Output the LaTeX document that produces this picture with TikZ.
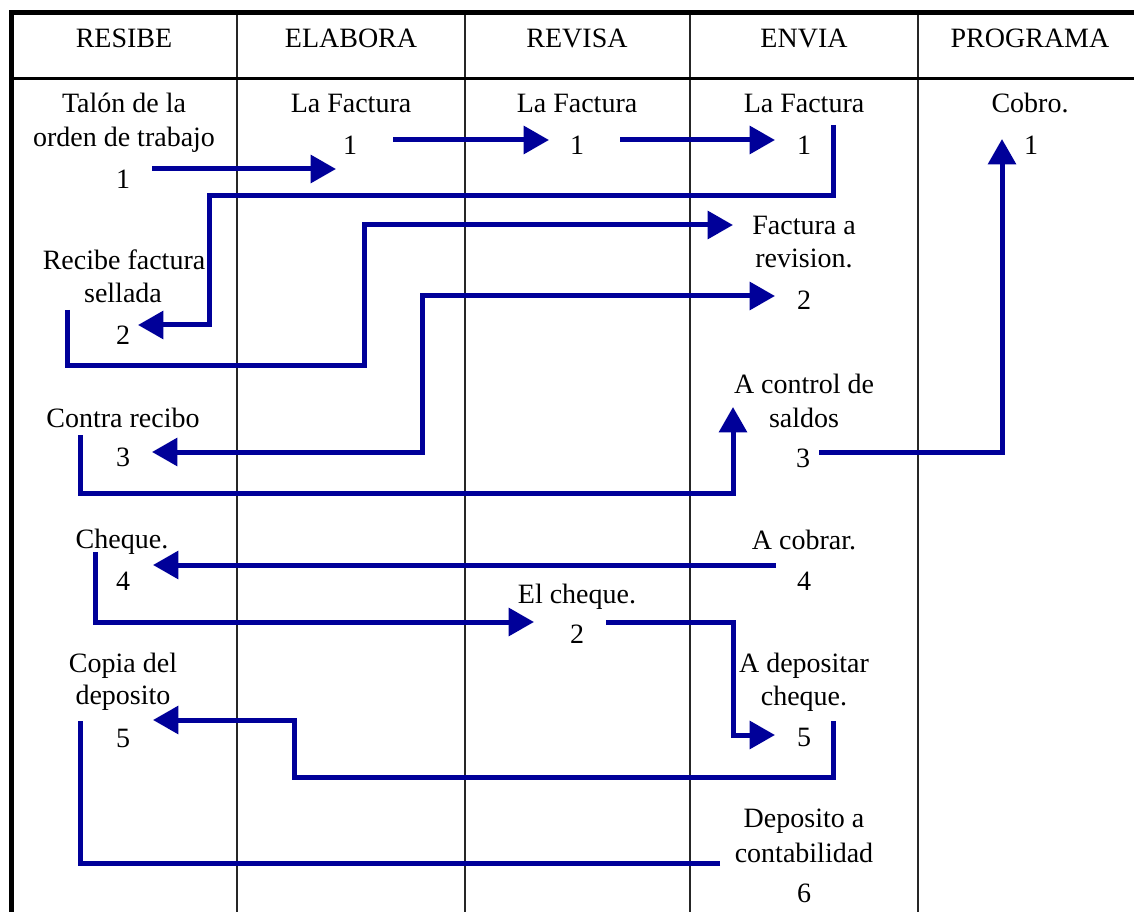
\documentclass[tikz,border=0pt]{standalone}
\usepackage{fontspec}
\setmainfont{Liberation Serif}
\usetikzlibrary{arrows.meta}
\definecolor{flow}{RGB}{0,0,153}
\begin{document}
\begin{tikzpicture}[x=0.75pt,y=-0.75pt,
  txt/.style={anchor=base,inner sep=0pt,font=\fontsize{21}{25}\selectfont},
  frame/.style={draw=black,line width=3.75pt},
  rule/.style={draw=black,line width=1.9pt},
  lane/.style={draw=black!85,line width=1.5pt},
  flowline/.style={draw=flow,line width=3.75pt,line join=miter},
  tohead/.style={-{Triangle[length=19pt,width=20.5pt]}},
  bothheads/.style={{Triangle[length=19pt,width=20.5pt]}-{Triangle[length=19pt,width=20.5pt]}}]
\useasboundingbox (0,0) rectangle (1134,912);
\clip (0,0) rectangle (1134,912);
\fill[white] (0,0) rectangle (1134,912);

% table frame and lanes
\draw[lane] (237,12) -- (237,920);
\draw[lane] (465,12) -- (465,920);
\draw[lane] (690,12) -- (690,920);
\draw[lane] (918,12) -- (918,920);
\draw[rule] (11,78.5) -- (1140,78.5);
\draw[frame] (11,920) -- (11,12.5) -- (1140,12.5);

% column headings
\node[txt] (hResibe)   at (124,48)  {RESIBE};
\node[txt] (hElabora)  at (351,48)  {ELABORA};
\node[txt] (hRevisa)   at (577,48)  {REVISA};
\node[txt] (hEnvia)    at (804,48)  {ENVIA};
\node[txt] (hPrograma) at (1030,48) {PROGRAMA};

% RESIBE lane
\node[txt] (r1a) at (124,113) {Talón de la};
\node[txt] (r1b) at (124,147) {orden de trabajo};
\node[txt] (r1n) at (123,189) {1};
\node[txt] (r2a) at (124,270) {Recibe factura};
\node[txt] (r2b) at (123,303) {sellada};
\node[txt] (r2n) at (123,345) {2};
\node[txt] (r3a) at (123,427) {Contra recibo};
\node[txt] (r3n) at (123,466) {3};
\node[txt] (r4a) at (122,548) {Cheque.};
\node[txt] (r4n) at (123,590) {4};
\node[txt] (r5a) at (123,672) {Copia del};
\node[txt] (r5b) at (123,704) {deposito};
\node[txt] (r5n) at (123,747) {5};

% ELABORA lane
\node[txt] (e1a) at (351,113) {La Factura};
\node[txt] (e1n) at (350,155) {1};

% REVISA lane
\node[txt] (v1a) at (577,113) {La Factura};
\node[txt] (v1n) at (577,155) {1};
\node[txt] (v2a) at (577,603) {El cheque.};
\node[txt] (v2n) at (577,643) {2};

% ENVIA lane
\node[txt] (n1a) at (804,113) {La Factura};
\node[txt] (n1n) at (804,155) {1};
\node[txt] (n2a) at (804,235) {Factura a};
\node[txt] (n2b) at (804,268) {revision.};
\node[txt] (n2n) at (804,310) {2};
\node[txt] (n3a) at (804,393) {A control de};
\node[txt] (n3b) at (804,427) {saldos};
\node[txt] (n3n) at (803,467) {3};
\node[txt] (n4a) at (804,549) {A cobrar.};
\node[txt] (n4n) at (804,590) {4};
\node[txt] (n5a) at (804,672) {A depositar};
\node[txt] (n5b) at (804,705) {cheque.};
\node[txt] (n5n) at (804,746) {5};
\node[txt] (n6a) at (804,827) {Deposito a};
\node[txt] (n6b) at (804,862) {contabilidad};
\node[txt] (n6n) at (804,902) {6};

% PROGRAMA lane
\node[txt] (p1a) at (1030,113) {Cobro.};
\node[txt] (p1n) at (1031,155) {1};

% connector ends beside the step numbers
\coordinate (r1out) at (152,169);
\coordinate (e1in)  at (336,169);
\coordinate (e1out) at (393,140);
\coordinate (v1in)  at (549,140);
\coordinate (v1out) at (620,140);
\coordinate (n1in)  at (775,140);
\coordinate (n1out) at (833,125);
\coordinate (r2in)  at (138,325);
\coordinate (r2out) at (67,310);
\coordinate (n2ain) at (733,225);
\coordinate (r3in)  at (152,452);
\coordinate (n2in)  at (775,296);
\coordinate (r3out) at (80,435);
\coordinate (n3in)  at (733,407);
\coordinate (n3out) at (819,452);
\coordinate (p1in)  at (1002,139);
\coordinate (n4out) at (776,565);
\coordinate (r4in)  at (153,565);
\coordinate (r4out) at (95,552);
\coordinate (v2in)  at (534,622);
\coordinate (v2out) at (606,622);
\coordinate (n5in)  at (775,735);
\coordinate (n5out) at (833,721);
\coordinate (r5in)  at (153,720);
\coordinate (n6out) at (720,863);
\coordinate (r5end) at (80,721);

% flow of the invoice
\draw[flowline,tohead] (r1out) -- (e1in);
\draw[flowline,tohead] (e1out) -- (v1in);
\draw[flowline,tohead] (v1out) -- (n1in);
\draw[flowline,tohead] (n1out) -- (833,196) -- (209,196) -- (209,325) -- (r2in);
\draw[flowline,tohead] (r2out) -- (67,366) -- (364,366) -- (364,225) -- (n2ain);
\draw[flowline,bothheads] (r3in) -- (422,452) -- (422,296) -- (n2in);
\draw[flowline,tohead] (r3out) -- (80,493) -- (733,493) -- (n3in);
\draw[flowline,tohead] (n3out) -- (1002,452) -- (p1in);

% flow of the cheque
\draw[flowline,tohead] (n4out) -- (r4in);
\draw[flowline,tohead] (r4out) -- (95,622) -- (v2in);
\draw[flowline,tohead] (v2out) -- (733,622) -- (733,735) -- (n5in);
\draw[flowline,tohead] (n5out) -- (833,777) -- (294,777) -- (294,720) -- (r5in);
\draw[flowline] (n6out) -- (80,863) -- (r5end);
\end{tikzpicture}
\end{document}
